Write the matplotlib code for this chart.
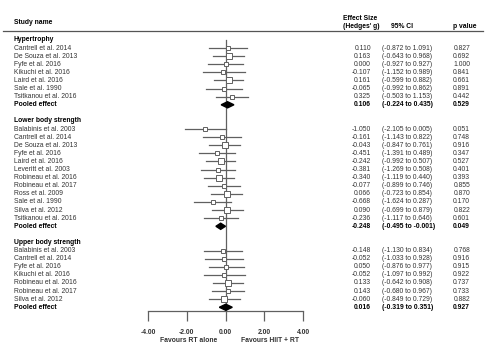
import matplotlib.pyplot as plt
from matplotlib.transforms import blended_transform_factory

plt.rcParams['font.family'] = ['Liberation Sans', 'DejaVu Sans']

# Hypertrophy
hyp_names = ['Cantrell et al. 2014', 'De Souza et al. 2013', 'Fyfe et al. 2016',
             'Kikuchi et al. 2016', 'Laird et al. 2016', 'Sale et al. 1990',
             'Tsitkanou et al. 2016']
hyp_g = [0.110, 0.163, 0.000, -0.107, 0.161, -0.065, 0.325]
hyp_lo = [-0.872, -0.643, -0.927, -1.152, -0.599, -0.992, -0.503]
hyp_hi = [1.091, 0.968, 0.927, 0.989, 0.882, 0.862, 1.153]
hyp_p = [0.827, 0.692, 1.000, 0.841, 0.661, 0.891, 0.442]
hyp_pooled = (0.106, -0.224, 0.435, 0.529)

# Lower body strength
low_names = ['Balabinis et al. 2003', 'Cantrell et al. 2014', 'De Souza et al. 2013',
             'Fyfe et al. 2016', 'Laird et al. 2016', 'Leveritt et al. 2003',
             'Robineau et al. 2016', 'Robineau et al. 2017', 'Ross et al. 2009',
             'Sale et al. 1990', 'Silva et al. 2012', 'Tsitkanou et al. 2016']
low_g = [-1.050, -0.161, -0.043, -0.451, -0.242, -0.381, -0.340, -0.077, 0.066,
         -0.668, 0.090, -0.236]
low_lo = [-2.105, -1.143, -0.847, -1.391, -0.992, -1.269, -1.119, -0.899, -0.723,
          -1.624, -0.699, -1.117]
low_hi = [0.005, 0.822, 0.761, 0.489, 0.507, 0.508, 0.440, 0.746, 0.854, 0.287,
          0.879, 0.646]
low_p = [0.051, 0.748, 0.916, 0.347, 0.527, 0.401, 0.393, 0.855, 0.870, 0.170,
         0.822, 0.601]
low_pooled = (-0.248, -0.495, -0.001, 0.049)

# Upper body strength
up_names = ['Balabinis et al. 2003', 'Cantrell et al. 2014', 'Fyfe et al. 2016',
            'Kikuchi et al. 2016', 'Robineau et al. 2016', 'Robineau et al. 2017',
            'Silva et al. 2012']
up_g = [-0.148, -0.052, 0.050, -0.052, 0.133, 0.143, -0.060]
up_lo = [-1.130, -1.033, -0.876, -1.097, -0.642, -0.680, -0.849]
up_hi = [0.834, 0.928, 0.977, 0.992, 0.908, 0.967, 0.729]
up_p = [0.768, 0.916, 0.915, 0.922, 0.737, 0.733, 0.882]
up_pooled = (0.016, -0.319, 0.351, 0.927)

groups = [
    ('Hypertrophy', hyp_names, hyp_g, hyp_lo, hyp_hi, hyp_p, hyp_pooled),
    ('Lower body strength', low_names, low_g, low_lo, low_hi, low_p, low_pooled),
    ('Upper body strength', up_names, up_g, up_lo, up_hi, up_p, up_pooled),
]

W, H = 500, 352
fig = plt.figure(figsize=(5, 3.52), dpi=100)
top_row, bot_row = -1.11, 33.46
ax = fig.add_axes([148 / W, (H - 311) / H, 155 / W, 280 / H])
ax.set_xlim(-4, 4)
ax.set_ylim(bot_row, top_row)

tr = blended_transform_factory(fig.transFigure, ax.transData)
fs = 4.9
txt = '#333333'
line_c = '#606060'

def put(xpx, row, s, ha='left', bold=False):
    ax.text(xpx / W, row, s, transform=tr, ha=ha, va='center', fontsize=fs,
            color='black' if bold else txt, fontweight='bold' if bold else 'normal')

def fmt(v):
    return '%.3f' % v

row = 0
for title, names, g, lo, hi, p, pooled in groups:
    put(14, row, title, bold=True)
    row += 1
    for i in range(len(names)):
        put(14, row, names[i])
        ax.plot([lo[i], hi[i]], [row, row], color=line_c, lw=0.9, zorder=2)
        # square size ~ study weight (inverse CI width)
        ms = 5.8 / (hi[i] - lo[i])
        ax.plot(g[i], row, marker='s', ms=ms, mfc='white', mec=line_c, mew=0.7, zorder=3)
        put(371, row, fmt(g[i]), ha='right')
        put(382, row, '(%s to %s)' % (fmt(lo[i]), fmt(hi[i])))
        put(470, row, fmt(p[i]), ha='right')
        row += 1
    pg, plo, phi, pp = pooled
    put(14, row, 'Pooled effect', bold=True)
    ax.fill([plo, pg, phi, pg], [row, row - 0.38, row, row + 0.38], color='black', zorder=4)
    put(371, row, fmt(pg), ha='right', bold=True)
    put(382, row, '(%s to %s)' % (fmt(plo), fmt(phi)), bold=True)
    put(470, row, fmt(pp), ha='right', bold=True)
    row += 2

# zero line
ax.plot([0, 0], [0, bot_row], color=line_c, lw=0.9, zorder=1)

# header
put(14, -2.1, 'Study name', bold=True)
put(343, -2.6, 'Effect Size', bold=True)
put(343, -1.7, "(Hedges' g)", bold=True)
put(402, -1.7, '95% CI', ha='center', bold=True)
put(465, -1.7, 'p value', ha='center', bold=True)
fig.add_artist(plt.Line2D([3 / W, 483 / W], [(H - 31) / H] * 2, color='#555555', lw=0.9))

for s in ['top', 'right', 'left']:
    ax.spines[s].set_visible(False)
ax.spines['bottom'].set_color(line_c)
ax.spines['bottom'].set_linewidth(0.9)
ax.set_yticks([])
ax.set_xticks([-4, -2, 0, 2, 4])
ax.set_xticklabels(['-4.00', '-2.00', '0.00', '2.00', '4.00'], fontsize=fs,
                   fontweight='bold', color=txt)
ax.tick_params(axis='x', length=7, width=0.9, color=line_c, pad=6)

# footer labels
ftr = blended_transform_factory(ax.transData, fig.transFigure)
ax.text(-1.9, (H - 340) / H, 'Favours RT alone', transform=ftr, ha='center',
        va='center', fontsize=fs, fontweight='bold', color=txt)
ax.text(2.3, (H - 340) / H, 'Favours HIIT + RT', transform=ftr, ha='center',
        va='center', fontsize=fs, fontweight='bold', color=txt)

fig.savefig('out.png', dpi=100, facecolor='white')
